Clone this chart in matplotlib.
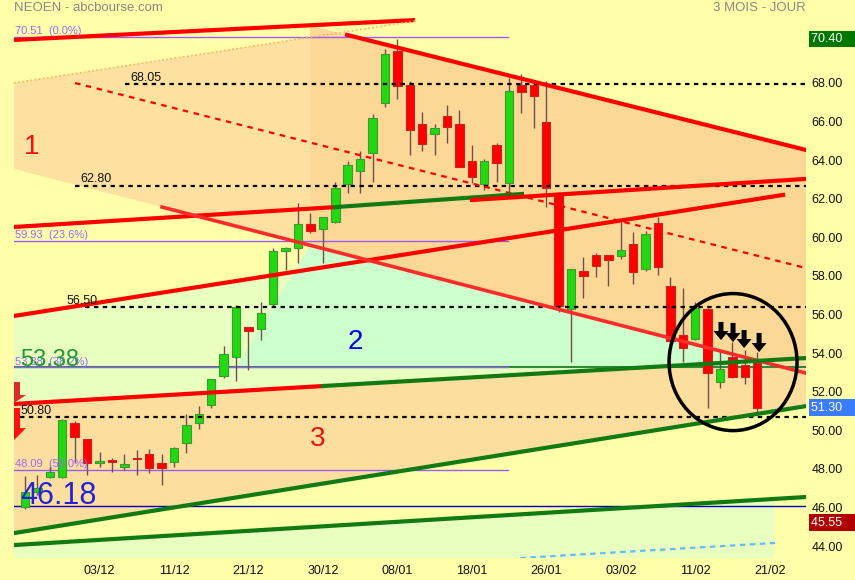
import numpy as np
import matplotlib
matplotlib.use("Agg")
import matplotlib.pyplot as plt
from matplotlib.patches import Ellipse
from matplotlib.transforms import ScaledTranslation

plt.rcParams['font.family'] = ['Liberation Sans', 'DejaVu Sans']

# daily candles (NEOEN, 3 months)
opens = [46.15, 46.93, 47.70, 47.70, 50.50, 49.68, 48.43, 48.58, 48.22, 48.64,
         48.90, 48.43, 48.48, 49.47, 50.50, 51.44, 52.94, 53.92, 55.48, 55.37,
         56.67, 59.42, 59.57, 60.81, 60.55, 60.92, 62.89, 63.56, 64.49, 67.08,
         69.78, 68.01, 66.00, 65.48, 66.41, 66.00, 64.08, 62.89, 64.91, 62.94,
         68.01, 68.01, 66.10, 62.32, 56.41, 58.38, 59.21, 59.21, 59.15, 59.78,
         58.48, 60.87, 57.60, 55.06, 54.85, 56.41, 52.63, 53.92, 53.51, 53.61]
highs = [47.76, 47.81, 48.27, 50.70, 50.60, 49.70, 49.00, 48.69, 48.90, 49.10,
         49.16, 48.90, 49.26, 50.97, 51.38, 52.80, 54.49, 56.62, 55.50, 56.77,
         59.57, 59.60, 61.90, 61.38, 61.20, 62.99, 64.08, 64.60, 66.51, 69.88,
         70.40, 68.22, 66.62, 66.00, 66.98, 66.72, 64.91, 64.18, 65.01, 68.38,
         68.59, 68.12, 68.22, 62.35, 58.50, 59.10, 59.31, 59.22, 60.92, 60.40,
         60.45, 61.18, 58.07, 57.50, 56.77, 56.45, 54.29, 54.70, 54.29, 54.18]
lows = [46.05, 46.77, 47.65, 47.65, 48.48, 47.81, 48.22, 47.96, 48.07, 47.81,
        47.91, 47.29, 48.22, 48.95, 50.19, 51.28, 52.84, 52.68, 53.25, 54.80,
        56.56, 58.43, 58.79, 60.35, 58.79, 60.87, 62.42, 62.42, 62.99, 66.87,
        67.29, 64.39, 64.60, 64.39, 65.01, 63.75, 62.94, 62.58, 62.99, 62.42,
        66.57, 65.79, 61.70, 56.26, 53.66, 56.98, 58.07, 57.60, 59.00, 57.70,
        58.38, 58.17, 54.70, 53.66, 54.80, 51.28, 52.32, 52.85, 52.53, 51.02]
closes = [46.93, 47.14, 47.96, 50.66, 49.78, 48.43, 48.53, 48.48, 48.38, 48.62,
          48.17, 48.17, 49.21, 50.40, 50.97, 52.78, 54.08, 56.51, 55.27, 56.20,
          59.42, 59.57, 60.81, 60.45, 61.18, 62.68, 63.87, 64.18, 66.31, 69.62,
          67.96, 65.69, 64.96, 65.79, 65.84, 63.77, 63.25, 64.08, 63.97, 67.70,
          67.65, 67.44, 62.68, 56.56, 58.48, 58.12, 58.64, 58.95, 59.47, 58.33,
          60.30, 58.59, 54.75, 54.39, 56.46, 53.10, 53.30, 52.89, 52.89, 51.30]

date_labels = ['03/12', '11/12', '21/12', '30/12', '08/01',
               '18/01', '26/01', '03/02', '11/02', '21/02']
date_bars = [6, 12, 18, 24, 30, 36, 42, 48, 54, 60]
price_ticks = [44, 46, 48, 50, 52, 54, 56, 58, 60, 62, 64, 66, 68]

# horizontal levels drawn by the user
levels = [68.05, 62.80, 56.50, 50.80]
level_from = [8.05, 4.03, 4.83, -0.40]
level_text_x = [8.45, 4.43, 3.38, -0.40]

fib_levels = [70.51, 59.93, 53.38, 48.09]
fib_pct = ['0.0%', '23.6%', '38.2%', '50.0%']

# last price flags on the right axis
flag_values = [70.40, 51.30, 45.55]
flag_colors = ['#007700', '#3a7bff', '#b00000']

# trend lines: (bar index pair, price pair)
top_red = ([-0.89, 31.43], [70.35, 71.38])
fan_dotted = ([-0.89, 31.43], [68.12, 71.33])
mid_dashed = ([4.03, 62.93], [68.12, 58.53])
chan_top = ([25.95, 62.93], [70.61, 64.65])
res_red1 = ([-0.89, 24.98], [60.66, 61.69])
res_green = ([24.98, 40.05], [61.69, 62.37])
res_red2 = ([36.02, 62.93], [62.06, 63.15])
up_red = ([-0.89, 61.08], [56.05, 62.32])
down_red = ([11.04, 62.93], [61.69, 53.09])
sup_red = ([-0.89, 24.01], [51.49, 52.42])
sup_green = ([24.01, 62.93], [52.42, 53.87])
low_green1 = ([-0.89, 62.93], [44.80, 51.38])
low_green2 = ([-0.89, 62.93], [44.18, 46.67])
blue_dash = ([39.9, 60.44], [43.51, 44.29])

# shaded zones
zone1 = ([-0.89, 22.97, 22.97, -0.89], [68.12, 70.49, 59.71, 63.67])
zone_right = ([22.97, 62.93, 62.93, 22.97], [71.09, 64.65, 53.09, 59.71])
zone_pale = ([-0.89, 27.7, 62.93, 62.93, -0.89], [56.05, 58.93, 53.09, 53.87, 51.49])
zone2 = ([17.0, 22.97, 61.4], [53.35, 59.71, 53.35])
zone3 = ([-0.89, 62.93, 62.93, -0.89], [51.49, 53.87, 51.38, 44.80])
zone_low = ([-0.89, 60.44, 60.44, -0.89], [44.18, 46.57, 43.51, 43.51])

arrow_x = [56.08, 57.05, 57.94, 59.15]
arrow_top = [55.74, 55.69, 55.32, 55.17]
arrow_tip = [54.80, 54.70, 54.39, 54.18]

BG = '#ffffaa'
W, H = 855, 580
L, R, B = 14, 806, 558
XMIN, XMAX = -0.89, 62.93
YMIN, YMAX = 43.51, 72.42
PXX = (R - L) / (XMAX - XMIN)
PXY = B / (YMAX - YMIN)


def down_arrow(ax, x, top, tip, color, head=7.5, shaft=2.5, head_len=9):
    hw, sw, hl = head / PXX, shaft / PXX, head_len / PXY
    xs = [x - sw, x + sw, x + sw, x + hw, x, x - hw, x - sw]
    ys = [top, top, tip + hl, tip + hl, tip, tip + hl, tip + hl]
    ax.fill(xs, ys, color=color, lw=0, zorder=8)


fig = plt.figure(figsize=(W / 100, H / 100), dpi=100, facecolor=BG)
ax = fig.add_axes([L / W, (H - B) / H, (R - L) / W, B / H])
ax.set_facecolor(BG)
ax.set_xlim(XMIN, XMAX)
ax.set_ylim(YMIN, YMAX)
for s in ax.spines.values():
    s.set_visible(False)

# zones
ax.fill(*zone1, color='#fde1a0', lw=0, zorder=0)
ax.fill(*zone_right, color='#fcd896', lw=0, zorder=0)
ax.fill(*zone_pale, color='#e8ffbf', lw=0, zorder=0)
ax.fill(*zone2, color='#ccffcc', lw=0, zorder=0.5)
ax.fill(*zone3, color='#fcdf9f', lw=0, zorder=0)
ax.fill(*zone_low, color='#e8ffbf', lw=0, zorder=0)

# fibonacci
for lv, pct in zip(fib_levels, fib_pct):
    if lv == 53.38:
        ax.plot([XMIN, XMAX], [lv, lv], color='#2e8b3a', lw=1.5, zorder=1.5)
    ax.plot([XMIN, 38.92], [lv, lv], color='#9a5cf5', lw=1, zorder=1.6)
    ax.text(XMIN + 0.05, lv + 0.05, f'{lv:.2f}  ({pct})', color='#a066ff',
            fontsize=8, va='bottom', ha='left', zorder=9)
ax.plot([XMIN, XMAX], [46.18, 46.18], color='#0000bb', lw=1, zorder=1.5)

# candles
x = np.arange(len(opens))
o, h, lo, c = map(np.array, (opens, highs, lows, closes))
up = c >= o
body_col = np.where(up, '#22d811', '#ff0000')
edge_col = np.where(up, '#3c9a2e', '#cc2222')
ax.vlines(x, lo, h, color='#6e5050', lw=1, zorder=3)
ax.bar(x, np.maximum(np.abs(c - o), 0.07), bottom=np.minimum(o, c), width=0.68,
       color=body_col, edgecolor=edge_col, lw=0.8, zorder=4)

# levels
for lv, x0, tx in zip(levels, level_from, level_text_x):
    ax.plot([x0, XMAX], [lv, lv], color='black', lw=1.6,
            linestyle=(0, (2, 2)), zorder=5)
    ax.text(tx, lv + 0.04, f'{lv:.2f}', fontsize=9, color='#111111',
            va='bottom', ha='left', zorder=9)

# trend lines
red = '#ff0000'
dgreen = '#127a12'
ax.plot(*top_red, color=red, lw=3, solid_capstyle='butt', zorder=5)
ax.plot(*fan_dotted, color='#ffb060', lw=1.2, linestyle=(0, (1, 1.5)), zorder=5)
ax.plot(*mid_dashed, color=red, lw=1.6, linestyle=(0, (2.5, 2.5)), zorder=5)
ax.plot(*chan_top, color=red, lw=3, zorder=5)
ax.plot(*res_red1, color=red, lw=3, zorder=5)
ax.plot(*res_green, color=dgreen, lw=3, zorder=5)
ax.plot(*res_red2, color=red, lw=3, zorder=5)
ax.plot(*up_red, color=red, lw=3, zorder=5)
ax.plot(*down_red, color='#ff2a2a', lw=2.6, zorder=5)
ax.plot(*sup_red, color=red, lw=3, zorder=5)
ax.plot(*sup_green, color=dgreen, lw=3, zorder=5)
ax.plot(*low_green1, color=dgreen, lw=3, zorder=5)
ax.plot(*low_green2, color=dgreen, lw=3, zorder=5)
ax.plot(*blue_dash, color='#66bbff', lw=1.6, linestyle=(0, (2.5, 2)), zorder=5)

# circle + arrows
ax.add_patch(Ellipse((57.05, 53.66), 10.31, 7.10, fill=False, ec='black',
                     lw=2.5, zorder=7))
for ax_x, t, p in zip(arrow_x, arrow_top, arrow_tip):
    down_arrow(ax, ax_x, t, p, 'black')
down_arrow(ax, XMIN, 52.63, 51.54, '#dd2b2b', head=12, shaft=6, head_len=8)
down_arrow(ax, XMIN, 51.28, 49.62, '#ff1010', head=12, shaft=6, head_len=12)

# zone labels
ax.text(0.56, 64.80, '1', color='#ee1111', fontsize=20, ha='center', va='center', zorder=9)
ax.text(26.6, 54.70, '2', color='#0000ee', fontsize=20, ha='center', va='center', zorder=9)
ax.text(23.6, 49.67, '3', color='#ee1111', fontsize=20, ha='center', va='center', zorder=9)
ax.text(-0.40, 53.46, '53.38', color='#229933', fontsize=17, ha='left',
        va='baseline', zorder=9)
ax.text(-0.40, 46.31, '46.18', color='#2222dd', fontsize=22, ha='left',
        va='baseline', zorder=9)

# axes ticks
ax.yaxis.tick_right()
ax.set_yticks(price_ticks)
ax.set_yticklabels([f'{p:.2f}' for p in price_ticks])
ax.tick_params(axis='y', length=0, pad=4, labelsize=9, labelcolor='#111111')
ax.set_xticks(date_bars)
ax.set_xticklabels(date_labels)
ax.tick_params(axis='x', length=0, pad=5, labelsize=9, labelcolor='#111111')
for lab in ax.get_yticklabels():
    lab.set_transform(lab.get_transform() + ScaledTranslation(0, 0.025, fig.dpi_scale_trans))

# last price flags (trailing spaces widen the box to the right edge)
ytr = ax.get_yaxis_transform()
for val, col in zip(flag_values, flag_colors):
    t = ax.text(1.0062, val, f'{val:.2f}   ', transform=ytr, color='white',
                fontsize=9, ha='left', va='center', zorder=10, clip_on=False,
                bbox=dict(boxstyle='square,pad=0.18', fc=col, ec='none'))
    if val < 46:
        t.set_transform(ytr + ScaledTranslation(0, -0.04, fig.dpi_scale_trans))

fig.text(L / W, 1 - 8 / H, 'NEOEN - abcbourse.com', color='#888888',
         fontsize=9.5, ha='left', va='center')
fig.text(R / W, 1 - 8 / H, '3 MOIS - JOUR', color='#888888',
         fontsize=9.5, ha='right', va='center')

fig.savefig('out.png', dpi=100, facecolor=BG)
